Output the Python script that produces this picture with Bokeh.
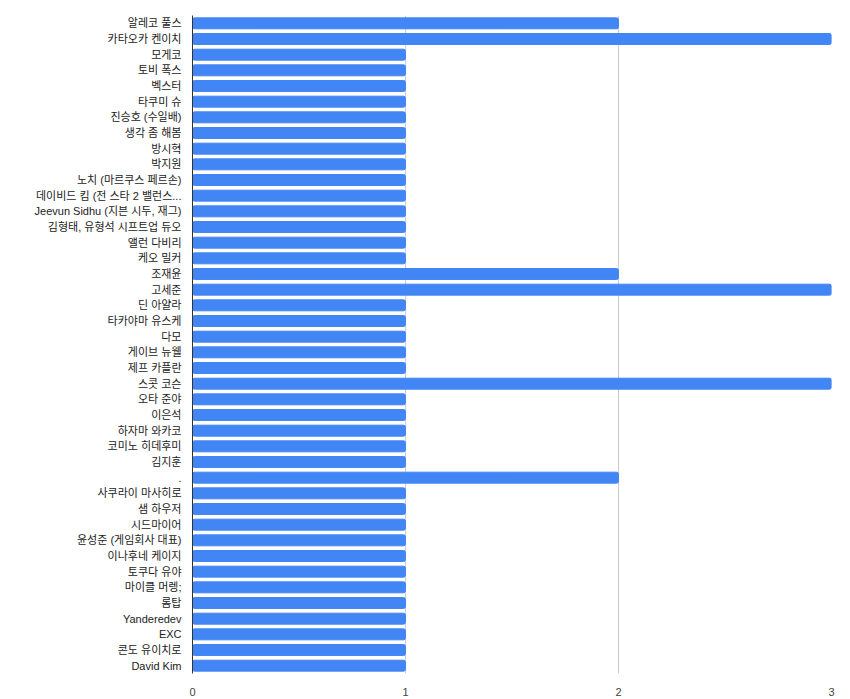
from bokeh.plotting import figure
from bokeh.models import FactorRange, FixedTicker
from bokeh.embed import file_html
from bokeh.resources import INLINE

names = [
    "알레코 풀스", "카타오카 켄이치", "모게코", "토비 폭스", "벡스터", "타쿠미 슈",
    "진승호 (수일배)", "생각 좀 해봄", "방시혁", "박지원", "노치 (마르쿠스 페르손)",
    "데이비드 킴 (전 스타 2 밸런스...", "Jeevun Sidhu (지븐 시두, 재그)",
    "김형태, 유형석 시프트업 듀오", "앨런 다비리", "케오 밀커", "조재윤", "고세준",
    "딘 아얄라", "타카야마 유스케", "다모", "게이브 뉴웰", "제프 카플란", "스콧 코슨",
    "오타 준야", "이은석", "하자마 와카코", "코미노 히데후미", "김지훈", ".",
    "사쿠라이 마사히로", "샘 하우저", "시드마이어", "윤성준 (게임회사 대표)",
    "이나후네 케이지", "토쿠다 유야", "마이클 머렝;", "롬탑", "Yanderedev", "EXC",
    "콘도 유이치로", "David Kim",
]
counts = [2, 3, 1, 1, 1, 1, 1, 1, 1, 1, 1, 1, 1, 1, 1, 1, 2, 3, 1, 1, 1, 1, 1, 3,
          1, 1, 1, 1, 1, 2, 1, 1, 1, 1, 1, 1, 1, 1, 1, 1, 1, 1]
x_ticks = [0, 1, 2, 3]

FONT = "Liberation Sans, 'Noto Sans CJK KR', sans-serif"

p = figure(width=850, height=699, output_backend="svg", toolbar_location=None,
           y_range=FactorRange(factors=list(reversed(names)), range_padding=0),
           x_range=(0, 3))
p.min_border_left = 192
p.min_border_right = 19
p.min_border_top = 15
p.min_border_bottom = 26
p.outline_line_color = None
p.background_fill_color = "white"
p.border_fill_color = "white"

p.hbar(y=names, right=counts, left=0, height=0.7, color="#4285f4",
       border_radius=2)

p.xaxis.ticker = FixedTicker(ticks=x_ticks)
p.xaxis.axis_line_color = None
p.xaxis.major_tick_line_color = None
p.xaxis.minor_tick_line_color = None
p.xaxis.major_label_standoff = 8
p.xaxis.major_label_text_font = FONT
p.xaxis.major_label_text_font_size = "11px"
p.xaxis.major_label_text_color = "#444444"

p.yaxis.axis_line_color = "#333333"
p.yaxis.axis_line_width = 1
p.yaxis.major_tick_line_color = None
p.yaxis.minor_tick_line_color = None
p.yaxis.major_label_standoff = 5
p.yaxis.major_label_text_font = FONT
p.yaxis.major_label_text_font_size = "11px"
p.yaxis.major_label_text_color = "#222222"

p.xgrid.ticker = FixedTicker(ticks=[1, 2, 3])
p.xgrid.grid_line_color = "#cccccc"
p.ygrid.grid_line_color = None

open("out.html", "w").write(file_html(p, INLINE))
